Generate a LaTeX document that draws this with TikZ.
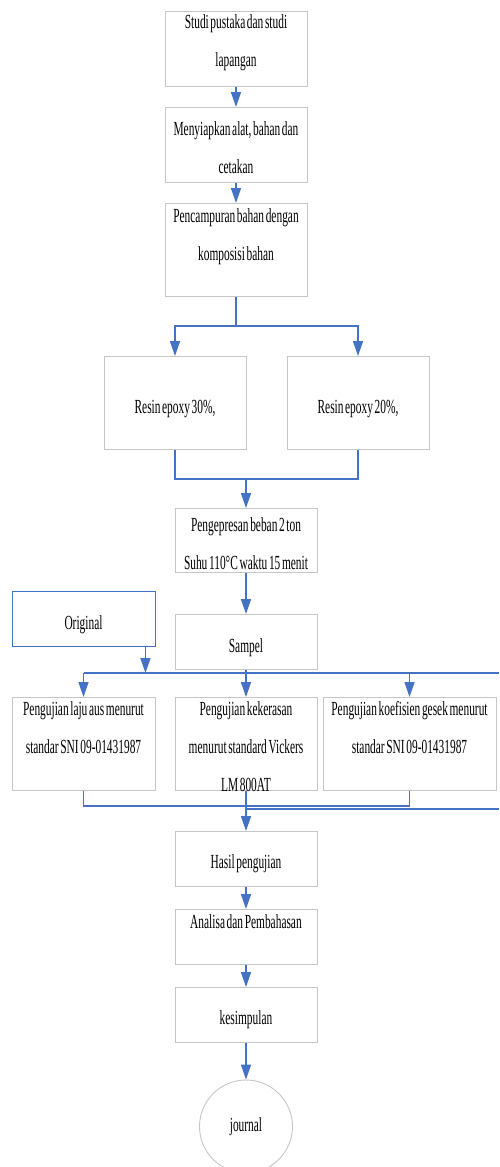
\documentclass[tikz,border=0pt]{standalone}
\usepackage{fontspec}
\setmainfont{Liberation Serif}[FakeStretch=0.57, WordSpace=0.57]
\usetikzlibrary{arrows.meta}
\definecolor{flowblue}{HTML}{4472C4}
\definecolor{boxgray}{HTML}{C6C6C6}
\tikzset{
  stage/.style={draw=boxgray, line width=0.9pt, inner sep=0pt, anchor=north, align=flush center, text width=142pt, font=\fontsize{20}{38}\selectfont},
  flow/.style={draw=flowblue, line width=1.5pt, -{Triangle[length=15pt,width=10pt]}},
  link/.style={draw=flowblue, line width=1.5pt},
}
\begin{document}
\begin{tikzpicture}[x=1pt,y=1pt]
\useasboundingbox (0,0) rectangle (499,-1167);

% Preparation
\node[stage, text height=17pt, text depth=58pt] (studi) at (236,-11) {Studi pustaka dan studi\\lapangan};
\node[stage, text height=28pt, text depth=47pt] (siap) at (236,-107) {Menyiapkan alat, bahan dan\\cetakan};
\node[stage, text height=19pt, text depth=74pt] (campur) at (236,-203) {Pencampuran bahan dengan\\komposisi bahan};

% Compositions
\node[stage, text height=57pt, text depth=36pt] (resin30) at (175,-356) {Resin epoxy 30\%,};
\node[stage, text height=57pt, text depth=36pt] (resin20) at (358,-356) {Resin epoxy 20\%,};

% Pressing and samples
\node[stage, text height=23pt, text depth=41pt] (press) at (246,-508) {Pengepresan beban 2 ton\\Suhu 110°C waktu 15 menit};
\node[stage, draw=flowblue, text width=143pt, text height=38pt, text depth=17pt] (original) at (83.5,-591) {Original};
\node[stage, text height=38pt, text depth=17pt] (sampel) at (246,-614) {Sampel};

% Tests
\node[stage, text width=143pt, text height=18pt, text depth=75pt] (laju) at (83.5,-697) {Pengujian laju aus menurut\\standar SNI 09-01431987};
\node[stage, text height=18pt, text depth=75pt] (keras) at (246,-697) {Pengujian kekerasan\\menurut standard Vickers\\LM 800AT};
\node[stage, text width=173pt, text height=18pt, text depth=75pt] (gesek) at (409.5,-697) {Pengujian koefisien gesek menurut\\standar SNI 09-01431987};

% Results
\node[stage, text height=37pt, text depth=18pt] (hasil) at (246,-831) {Hasil pengujian};
\node[stage, text height=19pt, text depth=36pt] (analisa) at (246,-909) {Analisa dan Pembahasan};
\node[stage, text height=37pt, text depth=18pt] (kesim) at (246,-987) {kesimpulan};
\node[circle, draw=boxgray, line width=0.9pt, minimum size=93pt, inner sep=0pt, font=\fontsize{20}{24}\selectfont] (journal) at (246,-1126.5) {journal};

% Connectors
\draw[flow] (studi) -- (siap);
\draw[flow] (siap) -- (campur);
\coordinate (split) at (236,-326);
\draw[link] (campur.south) -- (split);
\draw[flow] (split) -| (resin30.north);
\draw[flow] (split) -| (resin20.north);
\coordinate (join) at (246,-479);
\draw[link] (resin30.south) |- (join) -| (resin20.south);
\draw[flow] (join) -- (press.north);
\draw[flow] (press) -- (sampel);

\coordinate (bus) at (246,-673);
\coordinate (busend) at (499,-673);
\draw[link] (sampel.south) -- (bus);
\draw[link] (laju.north |- bus) -- (busend);
\draw[flow] ([xshift=-10pt]original.south east) -- ([xshift=-10pt]original.south east |- bus);
\foreach \n in {laju,keras,gesek}
  \draw[flow] (\n.north |- bus) -- (\n.north);

\draw[link] (laju.south) -- ++(0,-15) -| (gesek.south);
\coordinate (tail) at (499,-809);
\draw[link] (keras.south |- tail) -- (tail);
\draw[flow] (keras.south) -- (hasil.north);
\draw[flow] (hasil) -- (analisa);
\draw[flow] (analisa) -- (kesim);
\draw[flow] (kesim) -- (journal);
\end{tikzpicture}
\end{document}
